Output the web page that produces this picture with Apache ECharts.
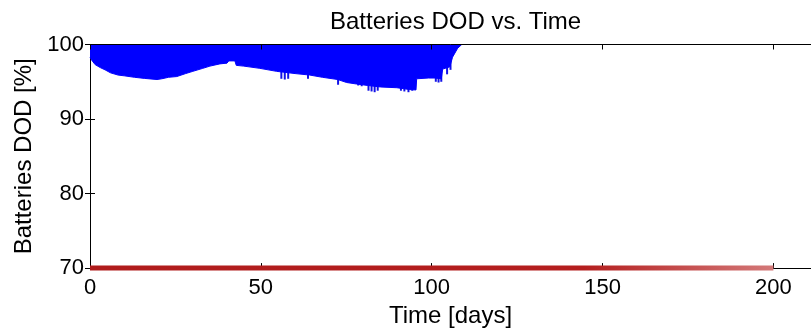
<!DOCTYPE html>
<html><head><meta charset="utf-8">
<script src="https://cdn.jsdelivr.net/npm/echarts@6/dist/echarts.min.js"></script>
<style>html,body{margin:0;padding:0;background:#fff}#c{width:811px;height:333px}</style>
</head><body><div id="c"></div>
<script>
// Lower envelope of the blue DOD band (days, %)
const envDays = [0, 0.5, 1.5, 3, 4.4, 6, 8.2, 10, 13, 16, 19.6, 21, 23, 25.4, 28, 30.1, 33, 35.1, 38, 40.1, 40.6, 42.4, 42.8, 45, 49.7, 54.6, 60, 64.3, 68, 72.5, 75.1, 78, 81.3, 85, 89.8, 93.6, 95.4, 95.6, 99, 101, 102.8, 103.2, 105.3, 106.1, 107.6, 108.8];
const envDod  = [98.3, 97.9, 97.3, 96.9, 96.6, 96.2, 95.9, 95.8, 95.6, 95.45, 95.3, 95.4, 95.6, 95.7, 96.1, 96.4, 96.8, 97.1, 97.4, 97.5, 97.8, 97.8, 97.2, 97.1, 96.8, 96.4, 96.1, 95.9, 95.6, 95.3, 94.9, 94.7, 94.5, 94.3, 94.2, 93.95, 93.9, 95.4, 95.5, 95.5, 95.4, 96.7, 97.0, 98.3, 99.5, 100];
// Deeper discharge spikes below the envelope
const spikeDays = [56.0, 57.0, 58.0, 63.8, 72.6, 78.5, 79.5, 81.5, 82.4, 83.3, 84.2, 91.0, 92.0, 93.2, 94.3, 101.2, 102.0, 102.8, 104.5, 105.5];
const spikeDod  = [95.4, 95.3, 95.4, 95.4, 94.6, 94.5, 94.4, 93.8, 93.7, 93.6, 93.8, 93.8, 93.7, 93.6, 93.8, 95.0, 94.9, 95.0, 96.0, 96.6];
// Second battery (red) stays at 70 %
const redDays = [0, 200];
const redDod  = [70, 70];
const xTicks = [0, 50, 100, 150, 200];
const yTicks = [70, 80, 90, 100];

const FONT = 'Liberation Sans, Arial, sans-serif';
const chart = echarts.init(document.getElementById('c'), null, {renderer: 'canvas'});
const envData = envDays.map((d, i) => [d, envDod[i]]);
const spikeData = spikeDays.map((d, i) => [d, spikeDod[i]]);
const redData = redDays.map((d, i) => [d, redDod[i]]);

const axisCommon = {
  axisLine: {show: true, lineStyle: {color: '#000', width: 1}},
  axisTick: {show: true, inside: true, length: 5, lineStyle: {color: '#000'}},
  splitLine: {show: false}
};

chart.setOption({
  animation: false,
  backgroundColor: '#fff',
  title: {
    text: 'Batteries DOD vs. Time',
    left: 325, top: 5,
    textStyle: {fontFamily: FONT, fontSize: 24, fontWeight: 'normal', color: '#000'}
  },
  grid: {left: 90, right: -1, top: 44.5, bottom: 64.5, containLabel: false},
  xAxis: [
    Object.assign({}, axisCommon, {
      type: 'value', min: xTicks[0], max: 211, interval: 50, position: 'bottom',
      name: 'Time [days]', nameLocation: 'middle', nameGap: 31,
      nameTextStyle: {fontFamily: FONT, fontSize: 24, color: '#000'},
      axisLabel: {fontFamily: FONT, fontSize: 22, color: '#000', margin: 9, showMaxLabel: false}
    }),
    Object.assign({}, axisCommon, {
      type: 'value', min: xTicks[0], max: 211, interval: 50, position: 'top', z: 10,
      axisLabel: {show: false}
    })
  ],
  yAxis: [
    Object.assign({}, axisCommon, {
      type: 'value', min: yTicks[0], max: yTicks[yTicks.length - 1], interval: 10, position: 'left',
      name: 'Batteries DOD [%]', nameLocation: 'middle', nameGap: 54,
      nameTextStyle: {fontFamily: FONT, fontSize: 24, color: '#000'},
      axisLabel: {fontFamily: FONT, fontSize: 22, color: '#000', margin: 6}
    }),
    Object.assign({}, axisCommon, {
      type: 'value', min: yTicks[0], max: yTicks[yTicks.length - 1], interval: 10, position: 'right',
      axisLabel: {show: false}
    })
  ],
  series: [
    {
      type: 'line', data: envData, xAxisIndex: 0, yAxisIndex: 0,
      symbol: 'none', lineStyle: {color: '#0000ff', width: 1},
      areaStyle: {color: '#0000ff', opacity: 1, origin: 'end'}
    },
    {
      type: 'custom', data: spikeData, xAxisIndex: 0, yAxisIndex: 0,
      encode: {x: 0, y: 1},
      renderItem: function (params, api) {
        const top = api.coord([api.value(0), 100]);
        const bot = api.coord([api.value(0), api.value(1)]);
        return {type: 'line', shape: {x1: top[0], y1: top[1], x2: bot[0], y2: bot[1]},
                style: {stroke: '#1212e8', lineWidth: 2}};
      }
    },
    {
      type: 'line', data: redData, xAxisIndex: 0, yAxisIndex: 0, clip: false,
      symbol: 'none', z: 5,
      lineStyle: {width: 5, color: new echarts.graphic.LinearGradient(0, 0, 1, 0, [
        {offset: 0, color: '#b01c1c'}, {offset: 0.72, color: '#b41e1e'}, {offset: 1, color: '#d47a7a'}
      ])}
    }
  ]
});
</script></body></html>
